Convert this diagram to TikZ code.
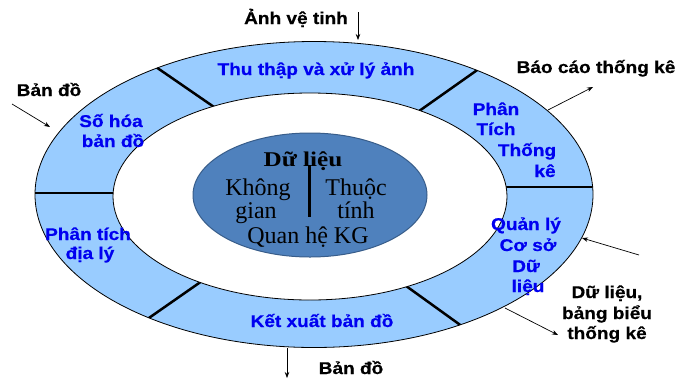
\documentclass[tikz,border=0pt]{standalone}
\usepackage{fontspec}
\setmainfont{Liberation Serif}
\newfontfamily\labelfont[FakeStretch=1.12, BoldFont={Liberation Sans Bold},
  BoldFeatures={FakeStretch=1.12, FakeBold=0.6}]{Liberation Sans}
\newfontfamily\headfont[FakeStretch=1.2]{Liberation Serif}
\usetikzlibrary{arrows.meta,shapes.geometric}
\definecolor{ringblue}{HTML}{99CCFF}
\definecolor{coreblue}{HTML}{4F81BD}
\definecolor{coreedge}{HTML}{385D8A}
\definecolor{stageblue}{HTML}{0000F0}
\tikzset{
  stage/.style={anchor=base, inner sep=0pt, text=stageblue,
    font=\labelfont\bfseries\fontsize{17}{20}\selectfont},
  flowlabel/.style={anchor=base, inner sep=0pt, text=black,
    font=\labelfont\bfseries\fontsize{17}{20}\selectfont},
  coretext/.style={anchor=base, inner sep=0pt, font=\fontsize{24}{26}\selectfont},
  divider/.style={line width=2.5pt},
  rim/.style={line width=0.8pt},
  flow/.style={line width=0.7pt, -{Stealth[length=6pt,width=4.5pt]}},
}
\begin{document}
\begin{tikzpicture}[x=1pt,y=-1pt]
\useasboundingbox (0,0) rectangle (683,381);

% ring of processing stages
\begin{scope}
  \clip (314,194.5) ellipse [x radius=279pt, y radius=153pt];
  \fill[ringblue] (314,194.5) ellipse [x radius=279pt, y radius=153pt];
  \draw[divider] (140,56) -- (230,118);
  \draw[divider] (490,61) -- (405,121);
  \draw[divider] (500,187) -- (600,187);
  \draw[divider] (395,278) -- (470,332);
  \draw[divider] (212,274) -- (136,327);
  \draw[divider] (25,193) -- (120,193);
\end{scope}
\draw[rim] (314,194.5) ellipse [x radius=279pt, y radius=153pt];
\draw[rim, fill=white] (310,196.5) ellipse [x radius=197pt, y radius=103.5pt];

% data core
\node[ellipse, draw=coreedge, fill=coreblue, line width=1pt, inner sep=0pt,
      minimum width=234pt, minimum height=124pt] (core) at (310,195) {};
\node[anchor=base, inner sep=0pt, font=\headfont\bfseries\fontsize{21}{24}\selectfont]
  (data) at (303,166) {Dữ liệu};
\node[coretext] (spatial1) at (258,195) {Không};
\node[coretext] (spatial2) at (256,218) {gian};
\node[coretext] (attr1) at (356,195) {Thuộc};
\node[coretext] (attr2) at (356,218) {tính};
\node[coretext] (rel) at (308,243) {Quan hệ KG};
\coordinate (splittop) at (309,165);
\coordinate (splitbot) at (309,217);
\draw[line width=3pt] (splittop) -- (splitbot);

% stage labels
\node[stage] (capture) at (316,75) {Thu thập và xử lý ảnh};
\node[stage] (digit1) at (111,127) {Số hóa};
\node[stage] (digit2) at (113,147) {bản đồ};
\node[stage] (stat1) at (496,115) {Phân};
\node[stage] (stat2) at (496,135) {Tích};
\node[stage] (stat3) at (527,156) {Thống};
\node[stage] (stat4) at (545,177) {kê};
\node[stage] (db1) at (526,230) {Quản lý};
\node[stage] (db2) at (528,251) {Cơ sở};
\node[stage] (db3) at (526,272) {Dữ};
\node[stage] (db4) at (528,292) {liệu};
\node[stage] (geo1) at (88,240) {Phân tích};
\node[stage] (geo2) at (90,259) {địa lý};
\node[stage] (render) at (322,327) {Kết xuất bản đồ};

% inputs and outputs
\node[flowlabel] (satellite) at (296,24) {Ảnh vệ tinh};
\node[flowlabel] (mapin) at (49,96) {Bản đồ};
\node[flowlabel] (report) at (596,73) {Báo cáo thống kê};
\node[flowlabel] (tables1) at (607,298) {Dữ liệu,};
\node[flowlabel] (tables2) at (607,319) {bảng biểu};
\node[flowlabel] (tables3) at (607,339) {thống kê};
\node[flowlabel] (mapout) at (351,374) {Bản đồ};

\coordinate (satsrc) at (358,12);
\coordinate (sattip) at (358,40);
\coordinate (mapsrc) at (12,104);
\coordinate (maptip) at (50,127);
\coordinate (repsrc) at (548,110);
\coordinate (reptip) at (593,87);
\coordinate (dbsrc) at (639,255);
\coordinate (dbtip) at (582,238);
\coordinate (tabsrc) at (505,308);
\coordinate (tabtip) at (558,335);
\coordinate (outsrc) at (287,348);
\coordinate (outtip) at (287,378);

\draw[flow] (satsrc) -- (sattip);
\draw[flow] (mapsrc) -- (maptip);
\draw[flow] (repsrc) -- (reptip);
\draw[flow] (dbsrc) -- (dbtip);
\draw[flow] (tabsrc) -- (tabtip);
\draw[flow] (outsrc) -- (outtip);
\end{tikzpicture}
\end{document}
